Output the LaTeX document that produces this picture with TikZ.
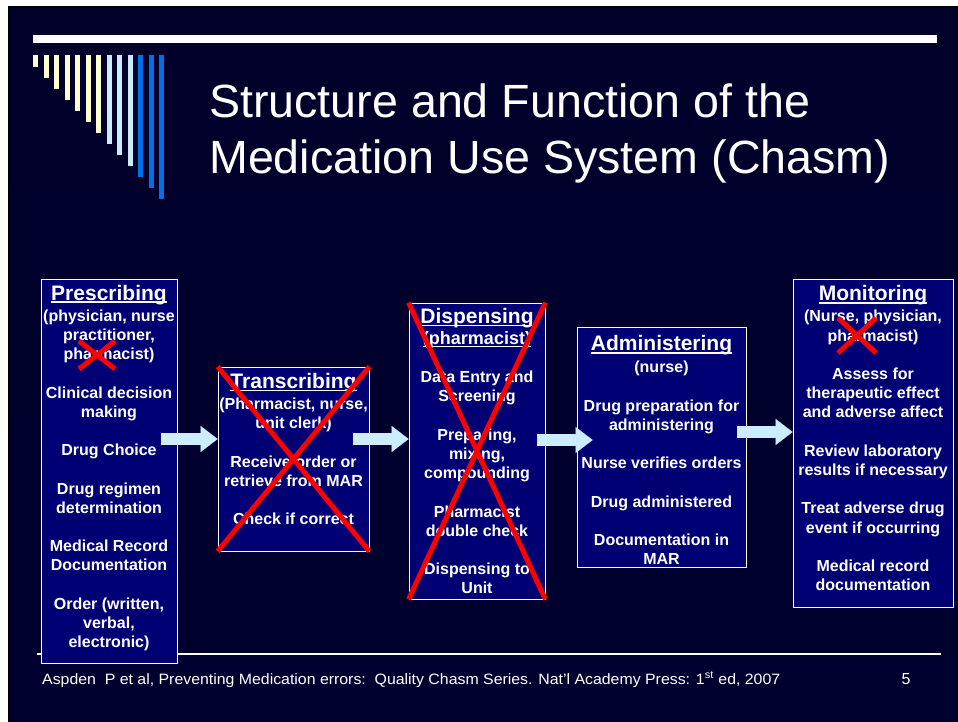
\documentclass[tikz,border=0pt]{standalone}
\usepackage{fontspec}
\setmainfont{Liberation Sans}
\usepackage{graphicx}
\usetikzlibrary{arrows.meta,calc}
\definecolor{slidetop}{HTML}{00002A}
\definecolor{slidemid}{HTML}{00006A}
\definecolor{slidebot}{HTML}{000030}
\definecolor{boxblue}{HTML}{000074}
\definecolor{flowblue}{HTML}{CCECFF}
\definecolor{stripyel}{HTML}{FFFFCC}
\definecolor{stripsky}{HTML}{CCEBFF}
\definecolor{stripblue}{HTML}{0070E6}
\newcommand\stagefont{\fontsize{16}{19.2}\selectfont\bfseries}
\newcommand\headfont{\fontsize{21}{23}\selectfont\bfseries}
\newcommand\titlefont{\fontsize{46.6}{56}\selectfont}
\newcommand\footfont{\fontsize{15}{18}\selectfont}
\newsavebox\headbox
\newcommand\stagehead[1]{\sbox\headbox{#1}\rlap{\rule[-3pt]{\wd\headbox}{1.6pt}}\usebox\headbox}
% invisible struts to move a text block up (deeper last line) or down (taller first line)
\newcommand\lastdepth[1]{\rule[-#1]{0pt}{0pt}}
\newcommand\firstheight[1]{\rule{0pt}{#1}}
\tikzset{stage/.style={draw=white, line width=0.8pt, fill=boxblue, text=white, align=center, inner sep=0pt, font=\stagefont}}
\tikzset{flow/.style={draw=flowblue, line width=12pt, -{Triangle[width=26pt,length=17pt,line width=0.01pt]}}}
\tikzset{cross/.style={draw=red, line width=5pt}}
\begin{document}
\begin{tikzpicture}[x=1pt,y=-1pt]
		\useasboundingbox (0,0) rectangle (958,722);
		\fill[white] (0,0) rectangle (958,722);
		\shade[top color=slidetop, middle color=slidemid, bottom color=slidebot, draw=black, line width=2pt] (9,7) rectangle (959,723);
		
		% header bar and stripes
		\fill[white] (33,35) rectangle (937,43);
		\foreach \i/\c in {0/stripyel,1/stripyel,2/stripyel,3/stripyel,4/stripyel,5/stripyel,6/stripyel,7/stripsky,8/stripsky,9/stripsky,10/stripblue,11/stripblue,12/stripblue}
			\fill[\c] ({33+10.5*\i},55) rectangle ++(5,{12+11*\i});
		
		\node[anchor=north west, inner sep=0pt, text=white, font=\titlefont, align=left] (title) at (209,84) {Structure and Function of the\\Medication Use System (Chasm)};
		
		\draw[white, line width=2pt] (37,654) -- (941,654);
		
		\node[stage, minimum width=136pt, minimum height=384pt] (pres) at (109,471) {{\headfont\stagehead{Prescribing}}\\[2pt]
			(physician, nurse\\practitioner,\\pharmacist)\\[19.2pt]
			Clinical decision\\making\\[19.2pt]
			Drug Choice\\[19.2pt]
			Drug regimen\\determination\\[19.2pt]
			Medical Record\\Documentation\\[19.2pt]
			Order (written,\\verbal,\\electronic)\lastdepth{9.5pt}};
		\node[stage, minimum width=151pt, minimum height=184pt] (trans) at (293.5,459) {{\headfont\stagehead{Transcribing}}\\[2pt]
			(Pharmacist, nurse,\\unit clerk)\\[19.2pt]
			Receive order or\\retrieve from MAR\\[19.2pt]
			Check if correct\lastdepth{20pt}};
		\node[stage, minimum width=136pt, minimum height=296pt] (disp) at (477,451) {{\headfont\stagehead{Dispensing}}\\[2pt]
			{\fontsize{18}{19.2}\selectfont\stagehead{(pharmacist)}}\\[19.2pt]
			Data Entry and\\Screening\\[19.2pt]
			Preparing,\\mixing,\\compounding\\[19.2pt]
			Pharmacist\\double check\\[19.2pt]
			Dispensing to\\Unit};
		\node[stage, minimum width=169pt, minimum height=240pt] (admin) at (661.5,447) {{\headfont\firstheight{21.5pt}\stagehead{Administering}}\\[3pt]
			(nurse)\\[19.2pt]
			Drug preparation for\\administering\\[19.2pt]
			Nurse verifies orders\\[19.2pt]
			Drug administered\\[19.2pt]
			Documentation in\\MAR};
		\node[stage, minimum width=160pt, minimum height=328pt] (mon) at (873,443) {{\headfont\stagehead{Monitoring}}\\[2pt]
			(Nurse, physician,\\pharmacist)\\[19.2pt]
			Assess for\\therapeutic effect\\and adverse affect\\[19.2pt]
			Review laboratory\\results if necessary\\[19.2pt]
			Treat adverse drug\\event if occurring\\[19.2pt]
			Medical record\\documentation\lastdepth{10pt}};
		
		% block arrows between the stages
		\coordinate (f1) at (161,439);
		\coordinate (f2) at (353,439);
		\coordinate (f3) at (537,440);
		\coordinate (f4) at (737,432);
		\draw[flow] (f1) -- (trans.west |- f1);
		\draw[flow] (f2) -- (disp.west |- f2);
		\draw[flow] (f3) -- ($(admin.west |- f3)+(16,0)$);
		\draw[flow] (f4) -- (mon.west |- f4);
		
		% crossed out
		\draw[cross] (trans.north west) -- (trans.south east) (trans.south west) -- (trans.north east);
		\draw[cross] (disp.north west) -- (disp.south east) (disp.south west) -- (disp.north east);
		\draw[cross] (79,341) -- ++(36,28) (79,369) -- ++(36,-28);
		\draw[cross] (838,318) -- ++(38,35) (838,353) -- ++(38,-35);
		
		\node[anchor=base west, inner sep=0pt, text=white, font=\footfont] (cite) at (42,684) {\resizebox{738pt}{\height}{Aspden\ \ P et al, Preventing Medication errors:\ \ Quality Chasm Series. Nat'l Academy Press: 1\textsuperscript{st} ed, 2007}};
		\node[anchor=base, inner sep=0pt, text=white, font=\fontsize{16}{18}\selectfont] (pagenum) at (906,684) {5};
\end{tikzpicture}
\end{document}
